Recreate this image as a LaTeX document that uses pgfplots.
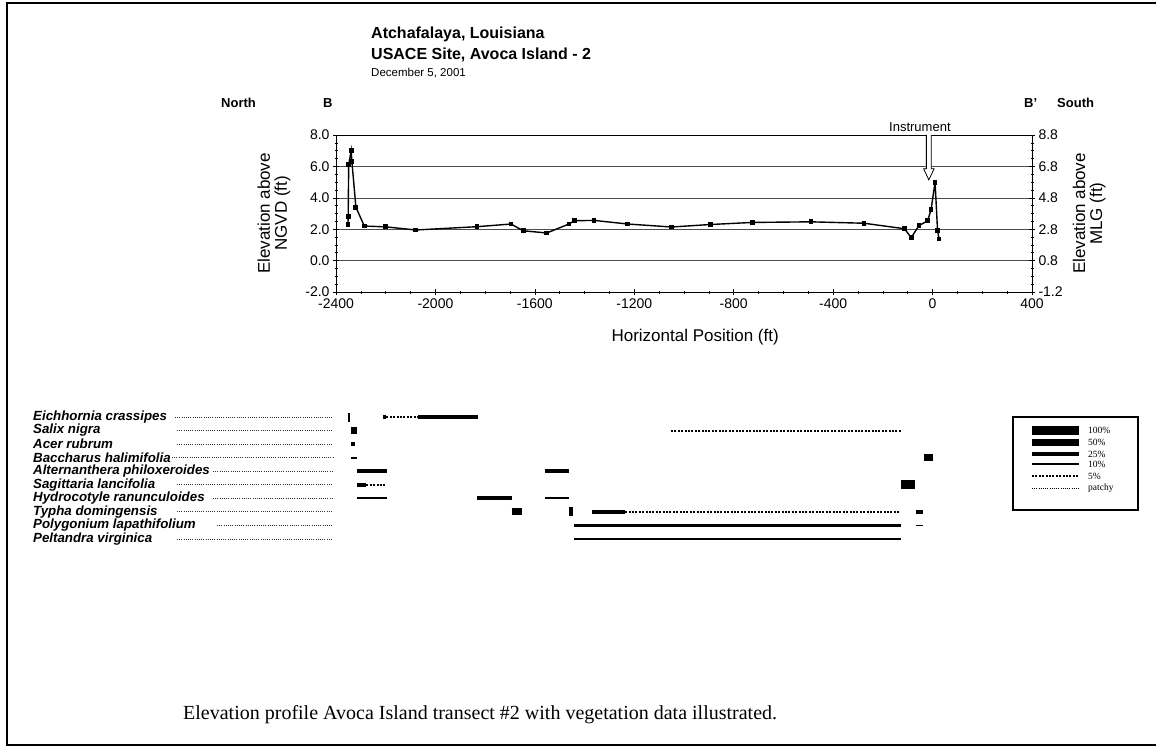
\documentclass[border=0pt]{standalone}
\usepackage{fontspec}
\setmainfont{Liberation Sans}
\newfontfamily\serif{Liberation Serif}
\usepackage{pgfplots}
\usepackage{pgfplotstable}
\pgfplotsset{compat=1.18}

% cover classes of the vegetation bars
\pgfplotsset{
  c100/.style={black, line width=9bp, line cap=butt},
  c50/.style={black, line width=7bp, line cap=butt},
  c25/.style={black, line width=3.8bp, line cap=butt},
  c10/.style={black, line width=1.8bp, line cap=butt},
  c5/.style={black, line width=2bp, dash pattern=on 2bp off 1.4bp},
}
\tikzset{leader/.style={black!80, line width=0.8bp, dash pattern=on 1bp off 1.2bp}}

% elevation profile, transect B-B'
\pgfplotstableread{
x      y
-2352  2.30
-2351  2.80
-2349  6.10
-2339  7.00
-2336  6.30
-2320  3.40
-2286  2.20
-2200  2.15
-2079  1.95
-1833  2.16
-1696  2.33
-1647  1.90
-1552  1.76
-1463  2.33
-1441  2.54
-1362  2.56
-1226  2.33
-1050  2.14
-893   2.30
-725   2.43
-489   2.47
-276   2.38
-113   2.03
-86    1.46
-55    2.23
-20    2.53
-6     3.25
10     5.00
20     1.90
26     1.38
}\profile

\newcommand{\fs}[1]{\fontsize{#1bp}{#1bp}\selectfont}

\begin{document}
\begin{tikzpicture}
\begin{scope}[x=1bp,y=-1bp]
\useasboundingbox (0,0) rectangle (1156,746);
\draw[line width=2bp] (1156,3) -- (7,3) -- (7,744.5) -- (1156,744.5);
\end{scope}

\begin{axis}[
  at={(336bp,-292bp)}, anchor=south west,
  scale only axis, width=696bp, height=157bp,
  xmin=-2400, xmax=400, ymin=-2, ymax=8,
  xtick={-2400,-2000,...,400}, ytick={-2,0,...,8},
  minor x tick num=3, minor y tick num=3,
  xtick pos=bottom, ytick pos=left, tick align=center,
  major tick length=6bp, minor tick length=3bp,
  ymajorgrids, grid style={black!70, line width=0.5bp},
  axis line style={line width=0.9bp},
  every tick/.style={black, line width=0.6bp},
  tick label style={font=\fs{14}},
  /pgf/number format/assume math mode=true,
  /pgf/number format/1000 sep={},
  yticklabel style={/pgf/number format/fixed, /pgf/number format/fixed zerofill, /pgf/number format/precision=1},
  xlabel={Horizontal Position (ft)},
  ylabel={Elevation above\\NGVD (ft)},
  label style={font=\fs{17}},
  ylabel style={at={(axis description cs:-0.089,0.5)}, anchor=center, align=center},
  xlabel style={at={(axis description cs:0.516,-0.285)}, anchor=center},
  clip=false,
]
\draw[fill=white, line width=0.8bp] (axis cs:-25,8) -- (axis cs:-25,5.85) -- (axis cs:-36,5.85)
  -- (axis cs:-15,5.14) -- (axis cs:6,5.85) -- (axis cs:-5,5.85) -- (axis cs:-5,8);
\node[anchor=base, font=\fs{13}] at (axis cs:-51,8.2) {Instrument};
\addplot[black, line width=1.4bp, mark=square*, mark size=1.7bp] table[x=x, y=y] {\profile};
\end{axis}

\begin{axis}[
  at={(336bp,-292bp)}, anchor=south west,
  scale only axis, width=696bp, height=157bp,
  xmin=-2400, xmax=400, ymin=-1.2, ymax=8.8,
  axis y line*=right, axis x line=none,
  ytick={-1.2,0.8,2.8,4.8,6.8,8.8}, tick align=center,
  minor y tick num=3,
  major tick length=6bp, minor tick length=3bp,
  axis line style={line width=0.9bp},
  every tick/.style={black, line width=0.6bp},
  tick label style={font=\fs{14}},
  /pgf/number format/assume math mode=true,
  yticklabel style={/pgf/number format/fixed, /pgf/number format/fixed zerofill, /pgf/number format/precision=1},
  ylabel={Elevation above\\MLG (ft)},
  label style={font=\fs{17}},
  ylabel style={at={(axis description cs:1.082,0.5)}, anchor=center, align=center},
]
\addplot[draw=none] coordinates {(0,0)};
\end{axis}

% vegetation cover along the same transect
\begin{axis}[
  at={(336bp,-545.8bp)}, anchor=south west,
  scale only axis, width=696bp, height=135.5bp,
  xmin=-2400, xmax=400, ymin=0.5, ymax=10.5, y dir=reverse,
  hide axis, clip=false,
]
% Eichhornia crassipes
\addplot[c100] coordinates {(-2351,1) (-2342,1)};
\addplot[c25] coordinates {(-2210,1) (-2197,1)};
\addplot[c5] coordinates {(-2197,1) (-2069,1)};
\addplot[c25] coordinates {(-2069,1) (-1830,1)};
% Salix nigra
\addplot[c50] coordinates {(-2341,2) (-2314,2)};
\addplot[c5] coordinates {(-1052,2) (-129,2)};
% Acer rubrum
\addplot[c25] coordinates {(-2341,3) (-2324,3)};
% Baccharus halimifolia
\addplot[c10] coordinates {(-2341,4) (-2314,4)};
\addplot[c50] coordinates {(-34,4) (3,4)};
% Alternanthera philoxeroides
\addplot[c25] coordinates {(-2314,5) (-2196,5)};
\addplot[c25] coordinates {(-1559,5) (-1462,5)};
% Sagittaria lancifolia
\addplot[c25] coordinates {(-2314,6) (-2278,6)};
\addplot[c5] coordinates {(-2278,6) (-2196,6)};
\addplot[c100] coordinates {(-129,6) (-69,6)};
% Hydrocotyle ranunculoides
\addplot[c10] coordinates {(-2314,7) (-2196,7)};
\addplot[c25] coordinates {(-1834,7) (-1693,7)};
\addplot[c10] coordinates {(-1559,7) (-1462,7)};
% Typha domingensis
\addplot[c50] coordinates {(-1693,8) (-1650,8)};
\addplot[c100] coordinates {(-1462,8) (-1446,8)};
\addplot[c25] coordinates {(-1369,8) (-1237,8)};
\addplot[c5] coordinates {(-1237,8) (-131,8)};
\addplot[c25] coordinates {(-68,8) (-37,8)};
% Polygonium lapathifolium
\addplot[c25] coordinates {(-1443,9) (-129,9)};
\addplot[c10] coordinates {(-68,9) (-37,9)};
% Peltandra virginica
\addplot[c10] coordinates {(-1443,10) (-129,10)};
\end{axis}

\begin{scope}[x=1bp,y=-1bp]
% heading
\node[anchor=west, font=\fs{16}\bfseries, inner sep=0] at (371,34) {Atchafalaya, Louisiana};
\node[anchor=west, font=\fs{16}\bfseries, inner sep=0] at (371,55) {USACE Site, Avoca Island - 2};
\node[anchor=west, font=\fs{11.5}, inner sep=0] at (371,73) {December 5, 2001};
\node[anchor=west, font=\fs{13}\bfseries, inner sep=0] at (221,103) {North};
\node[anchor=west, font=\fs{13}\bfseries, inner sep=0] at (323,103) {B};
\node[anchor=west, font=\fs{13}\bfseries, inner sep=0] at (1024,103) {B'};
\node[anchor=west, font=\fs{13}\bfseries, inner sep=0] at (1057,103) {South};
% species names and leaders
\foreach \name/\lead [count=\i] in {
  Eichhornia crassipes/175, Salix nigra/177, Acer rubrum/177,
  Baccharus halimifolia/172, Alternanthera philoxeroides/213,
  Sagittaria lancifolia/177, Hydrocotyle ranunculoides/213,
  Typha domingensis/177, Polygonium lapathifolium/217, Peltandra virginica/177} {
  \pgfmathsetmacro{\yy}{417+(\i-1)*13.55}
  \node[anchor=west, font=\fs{13.3}\bfseries\itshape, inner sep=0] at (33,\yy) {\name};
  \draw[leader] (\lead,\yy) -- (333,\yy);
}
% cover legend
\draw[line width=1.2bp] (1013,417) rectangle (1138,510);
\draw[line width=9bp] (1032,430.5) -- (1079,430.5);
\draw[line width=7bp] (1032,442.2) -- (1079,442.2);
\draw[line width=3.8bp] (1032,454) -- (1079,454);
\draw[line width=1.8bp] (1032,464) -- (1079,464);
\draw[line width=2bp, dash pattern=on 2bp off 1.4bp] (1032,476) -- (1079,476);
\draw[line width=0.8bp, dash pattern=on 1bp off 1.2bp] (1032,488.7) -- (1079,488.7);
\foreach \lab/\yy in {100\%/430.5, 50\%/442.2, 25\%/454, 10\%/464, 5\%/476, patchy/488.7}
  \node[anchor=west, font=\serif\fs{9.5}, inner sep=0] at (1088,\yy) {\lab};
% caption
\node[anchor=west, font=\serif\fs{20}, inner sep=0] at (183,715) {Elevation profile Avoca Island transect \#2 with vegetation data illustrated.};
\end{scope}
\end{tikzpicture}
\end{document}
